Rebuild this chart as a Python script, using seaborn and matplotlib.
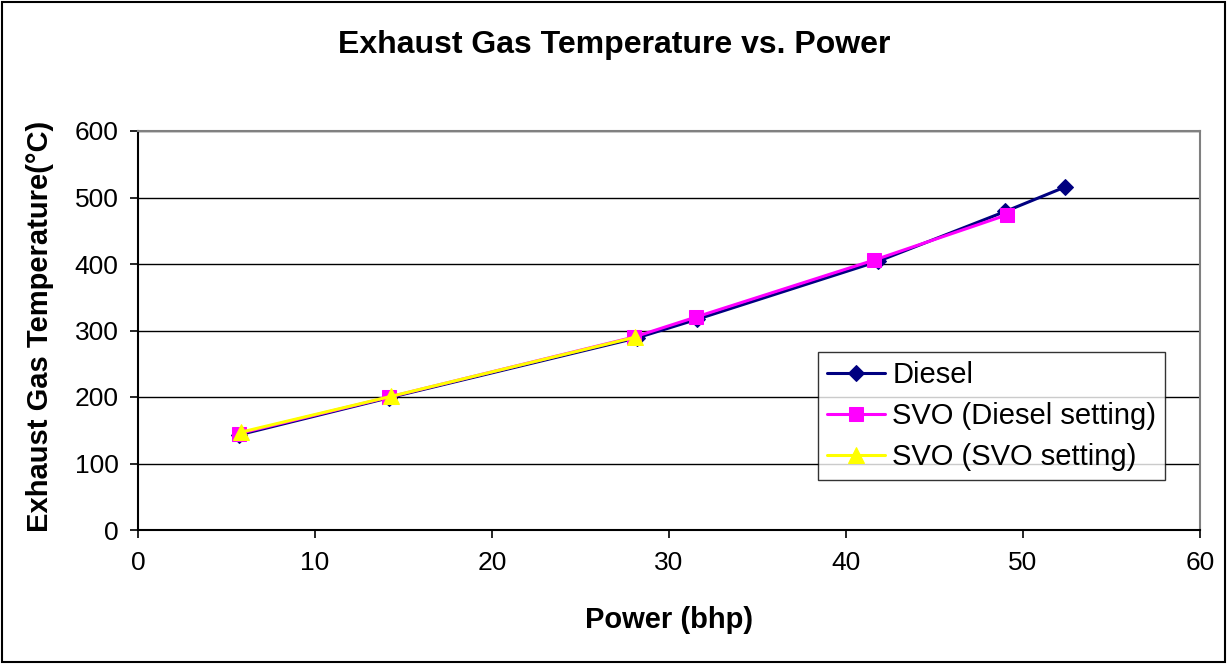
import matplotlib
matplotlib.use("Agg")
import matplotlib.pyplot as plt
import seaborn as sns
import pandas as pd
from matplotlib.patches import Rectangle

diesel_power = [5.7, 14.2, 28.2, 31.6, 41.8, 49.0, 52.4]
diesel_temp = [143, 199, 289, 317, 404, 479, 516]
svo_d_power = [5.7, 14.2, 28.0, 31.5, 41.6, 49.1]
svo_d_temp = [145, 200, 290, 320, 406, 474]
svo_s_power = [5.8, 14.3, 28.1]
svo_s_temp = [147, 201, 290]

series_names = ["Diesel", "SVO (Diesel setting)", "SVO (SVO setting)"]
x_ticks = [0, 10, 20, 30, 40, 50, 60]
y_ticks = [0, 100, 200, 300, 400, 500, 600]

sns.set_theme(style="white")
plt.rcParams['font.family'] = ['Liberation Sans', 'DejaVu Sans']
plt.rcParams['text.color'] = 'black'
plt.rcParams['axes.labelcolor'] = 'black'
plt.rcParams['xtick.color'] = 'black'
plt.rcParams['ytick.color'] = 'black'

fig = plt.figure(figsize=(12.27, 6.64), dpi=100)
ax = fig.add_axes([138/1227, 1-530/664, (1200-138)/1227, (530-131)/664])

styles = [
    (diesel_power, diesel_temp, "#000080", "D", 8),
    (svo_d_power, svo_d_temp, "#FF00FF", "s", 10),
    (svo_s_power, svo_s_temp, "#FFFF00", "^", 11),
]
for name, (xs, ys, col, mk, ms) in zip(series_names, styles):
    df = pd.DataFrame({"x": xs, "y": ys})
    sns.lineplot(data=df, x="x", y="y", ax=ax, color=col, marker=mk,
                 markersize=ms, markeredgecolor=col, linewidth=2.2,
                 sort=False, label=name)

ax.set_xlim(0, 60)
ax.set_ylim(0, 600)
ax.set_xticks(x_ticks)
ax.set_yticks(y_ticks)
ax.tick_params(axis='both', labelsize=19, length=6, width=1.2, direction='out', color='black',
               labelcolor='black', left=True, bottom=True)
ax.tick_params(axis='y', pad=8)
ax.tick_params(axis='x', pad=9)
ax.yaxis.grid(True, color='black', linewidth=1)
ax.xaxis.grid(False)
for s in ['top', 'right']:
    ax.spines[s].set_color('#808080')
    ax.spines[s].set_linewidth(1.5)
for s in ['left', 'bottom']:
    ax.spines[s].set_color('black')
    ax.spines[s].set_linewidth(1.5)

ax.set_xlabel("Power (bhp)", fontsize=21, fontweight='bold', color='black')
ax.set_ylabel("Exhaust Gas Temperature(°C)", fontsize=21, fontweight='bold', color='black')
ax.xaxis.set_label_coords(0.5, (530-620)/399)
ax.yaxis.set_label_coords((40-138)/1062, 0.51)
ax.xaxis.label.set_va('center')
ax.yaxis.label.set_va('center')
fig.text(614/1227, 1-45/664, "Exhaust Gas Temperature vs. Power", ha='center', va='center',
         fontsize=23, fontweight='bold', color='black')

leg = ax.legend(loc='upper left', bbox_to_anchor=((818-138)/1062, (530-352)/399),
                fontsize=21, frameon=True, fancybox=False, edgecolor='black',
                handlelength=2.0, borderpad=0.3, labelspacing=0.45, handletextpad=0.25,
                borderaxespad=0)
leg.get_frame().set_linewidth(1)
for t in leg.get_texts():
    t.set_color('black')

fig.patches.append(Rectangle((2/1227, 2/664), 1-4/1227, 1-4/664, transform=fig.transFigure,
                             fill=False, edgecolor='black', linewidth=1.5))

fig.savefig("out.png", dpi=100)
